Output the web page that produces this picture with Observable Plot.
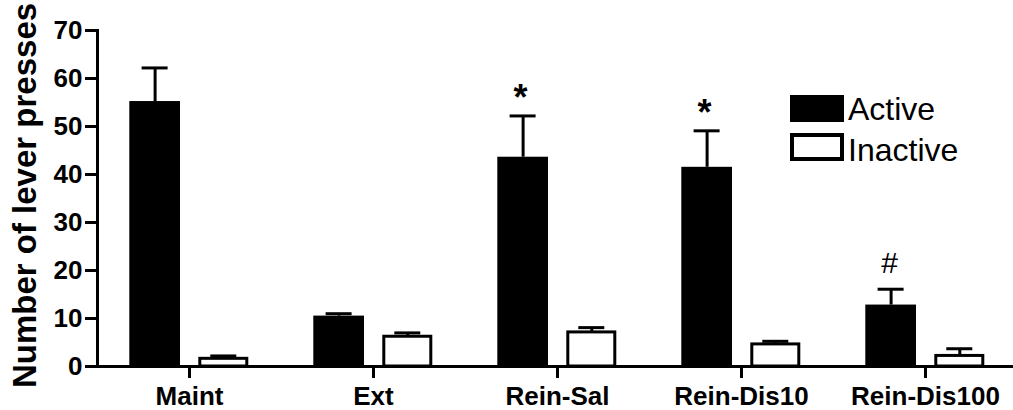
<!DOCTYPE html>
<html>
<head>
<meta charset="utf-8">
<script src="https://cdn.jsdelivr.net/npm/d3@7"></script>
<script src="https://cdn.jsdelivr.net/npm/@observablehq/plot@0.6"></script>
<style>
  html, body { margin: 0; padding: 0; background: white; }
  #wrap { position: relative; width: 1013px; height: 410px; font-family: "Liberation Sans", Arial, sans-serif; }
  .box { position: absolute; box-sizing: border-box; }
  .lab { position: absolute; font-size: 32px; line-height: 32px; color: black; white-space: nowrap; }
</style>
</head>
<body>
<div id="wrap"></div>
<script>
// ---- data ----
const groups = ["Maint", "Ext", "Rein-Sal", "Rein-Dis10", "Rein-Dis100"];
const activeMean = [55.2, 10.5, 43.6, 41.5, 12.8];
const activeSem = [7.0, 0.5, 8.6, 7.6, 3.3];
const inactiveMean = [1.6, 6.2, 7.1, 4.6, 2.2];
const inactiveSem = [0.6, 0.8, 1.0, 0.65, 1.5];
const sigLabels = ["", "", "*", "*", "#"];
const yTicks = [0, 10, 20, 30, 40, 50, 60, 70];
const seriesNames = ["Active", "Inactive"];
const yTitle = "Number of lever presses";

const rows = groups.map((g, i) => ({
  group: g,
  active: activeMean[i],
  activeTop: activeMean[i] + activeSem[i],
  inactive: inactiveMean[i],
  inactiveTop: inactiveMean[i] + inactiveSem[i],
  sig: sigLabels[i]
}));

const chart = Plot.plot({
  width: 1013,
  height: 410,
  marginLeft: 97,
  marginRight: 0,
  marginTop: 30,
  marginBottom: 44,
  style: {
    fontFamily: "'Liberation Sans', Arial, sans-serif",
    fontSize: "26px",
    fontWeight: "bold",
    color: "black",
    background: "white",
    overflow: "visible"
  },
  x: { domain: groups, range: [97, 1017], padding: 0, label: null },
  y: { domain: [0, 70], label: null },
  marks: [
    // error bars (drawn first, bars cover the lower part)
    Plot.ruleX(rows, { x: "group", y1: "active", y2: "activeTop", dx: -34.4, stroke: "black", strokeWidth: 3 }),
    Plot.tickY(rows, { x: "group", y: "activeTop", stroke: "black", strokeWidth: 3, insetLeft: 44.6, insetRight: 113.4 }),
    Plot.ruleX(rows, { x: "group", y1: "inactive", y2: "inactiveTop", dx: 34.3, stroke: "black", strokeWidth: 3 }),
    Plot.tickY(rows, { x: "group", y: "inactiveTop", stroke: "black", strokeWidth: 3, insetLeft: 113.3, insetRight: 44.7 }),
    // bars
    Plot.barY(rows, { x: "group", y: "active", fill: "black", insetLeft: 32.3, insetRight: 101 }),
    Plot.barY(rows, { x: "group", y: "inactive", fill: "white", stroke: "black", strokeWidth: 3, insetLeft: 102.8, insetRight: 34.2 }),
    // significance markers
    Plot.text(rows.filter(d => d.sig === "*"), {
      x: "group", y: "activeTop", text: "sig", dx: -37, dy: -6,
      lineAnchor: "bottom", fontSize: 36, fontWeight: "bold"
    }),
    Plot.text(rows.filter(d => d.sig === "#"), {
      x: "group", y: "activeTop", text: "sig", dx: -36, dy: -16,
      lineAnchor: "bottom", fontSize: 30, fontWeight: "normal"
    }),
    // axes
    Plot.axisY({ ticks: yTicks, tickSize: 12, tickPadding: 3, strokeWidth: 3, fontSize: 26, fontWeight: "bold", label: null }),
    Plot.axisX({ tickSize: 12, tickPadding: 8, strokeWidth: 3, fontSize: 26, fontWeight: "bold", label: null }),
    Plot.frame({ anchor: "left", stroke: "black", strokeWidth: 3 }),
    Plot.ruleY([0], { stroke: "black", strokeWidth: 3 }),
    // y-axis title
    Plot.text([yTitle], { frameAnchor: "left", textAnchor: "middle", rotate: -90, dx: -72, dy: -3, fontSize: 33, fontWeight: "bold" })
  ]
});

const wrap = document.getElementById("wrap");
wrap.appendChild(chart);

// legend (HTML overlay)
const legendItems = [
  { name: seriesNames[0], top: 95, h: 27, fill: "black", border: "none", textTop: 93 },
  { name: seriesNames[1], top: 133, h: 28, fill: "white", border: "4px solid black", textTop: 134 }
];
for (const it of legendItems) {
  const b = document.createElement("div");
  b.className = "box";
  Object.assign(b.style, { left: "790px", top: it.top + "px", width: "54px", height: it.h + "px", background: it.fill, border: it.border });
  wrap.appendChild(b);
  const t = document.createElement("div");
  t.className = "lab";
  t.textContent = it.name;
  Object.assign(t.style, { left: "848px", top: it.textTop + "px" });
  wrap.appendChild(t);
}
</script>
</body>
</html>
